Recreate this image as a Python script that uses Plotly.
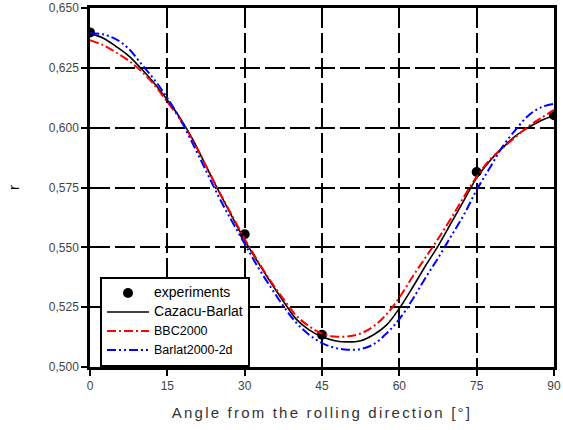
import plotly.graph_objects as go

# Experimental points
exp_angle = [0, 30, 45, 75, 90]
exp_r = [0.6398, 0.5555, 0.5135, 0.5815, 0.6052]

# Model curves
angle = [0, 2.5, 5, 7.5, 10, 12.5, 15, 17.5, 20, 22.5, 25, 27.5, 30, 32.5, 35, 37.5,
         40, 42.5, 45, 47.5, 50, 52.5, 55, 57.5, 60, 62.5, 65, 67.5, 70, 72.5, 75,
         77.5, 80, 82.5, 85, 87.5, 90]

cazacu_barlat = [0.6393, 0.6375, 0.6340, 0.6300, 0.6245, 0.6185, 0.6116, 0.6040, 0.5948,
                 0.5840, 0.5733, 0.5630, 0.5530, 0.5440, 0.5355, 0.5275, 0.5200, 0.5155,
                 0.5126, 0.5110, 0.5105, 0.5110, 0.5135, 0.5175, 0.5245, 0.5330, 0.5420,
                 0.5505, 0.5600, 0.5695, 0.5790, 0.5860, 0.5915, 0.5965, 0.6000, 0.6030,
                 0.6050]

bbc2000 = [0.6366, 0.6345, 0.6315, 0.6280, 0.6235, 0.6178, 0.6107, 0.6035, 0.5945,
           0.5840, 0.5735, 0.5635, 0.5535, 0.5445, 0.5360, 0.5285, 0.5215, 0.5170,
           0.5140, 0.5127, 0.5128, 0.5140, 0.5170, 0.5220, 0.5290, 0.5375, 0.5455,
           0.5535, 0.5620, 0.5710, 0.5795, 0.5865, 0.5915, 0.5960, 0.6005, 0.6040,
           0.6074]

barlat2000_2d = [0.6395, 0.6390, 0.6370, 0.6330, 0.6265, 0.6200, 0.6124, 0.6035, 0.5930,
                 0.5820, 0.5710, 0.5610, 0.5515, 0.5420, 0.5335, 0.5255, 0.5185, 0.5135,
                 0.5100, 0.5080, 0.5072, 0.5075, 0.5095, 0.5140, 0.5200, 0.5280, 0.5370,
                 0.5455, 0.5545, 0.5635, 0.5740, 0.5830, 0.5920, 0.5990, 0.6050, 0.6085,
                 0.6100]

x_ticks = [0, 15, 30, 45, 60, 75, 90]
y_ticks = [0.500, 0.525, 0.550, 0.575, 0.600, 0.625, 0.650]

fig = go.Figure()
fig.add_trace(go.Scatter(x=exp_angle, y=exp_r, mode="markers",
                         name='<span style="font-size:14px">experiments</span>',
                         marker=dict(color="black", size=10)))
fig.add_trace(go.Scatter(x=angle, y=cazacu_barlat, mode="lines",
                         name='<span style="font-size:14px">Cazacu-Barlat</span>',
                         line=dict(color="black", width=1.6, shape="spline")))
fig.add_trace(go.Scatter(x=angle, y=bbc2000, mode="lines",
                         name='<span style="font-size:12.5px">BBC2000</span>',
                         line=dict(color="#ff0000", width=2, shape="spline",
                                   dash="9px,3px,2px,3px")))
fig.add_trace(go.Scatter(x=angle, y=barlat2000_2d, mode="lines",
                         name='<span style="font-size:12.5px">Barlat2000-2d</span>',
                         line=dict(color="#0000ff", width=2, shape="spline",
                                   dash="9px,3px,2px,3px,2px,3px")))

axis_common = dict(showline=True, linecolor="black", linewidth=2.5, mirror=True,
                   ticks="outside", ticklen=6, tickwidth=2, tickcolor="black",
                   showgrid=True, gridcolor="black", gridwidth=2, griddash="20px,5px",
                   zeroline=False, automargin=False,
                   tickfont=dict(family="Liberation Sans, Arial", size=12, color="#444"))

fig.update_xaxes(range=[0, 90], tickvals=x_ticks, ticktext=[str(v) for v in x_ticks],
                 title=dict(text='<span style="letter-spacing:2.2px">Angle from the rolling direction [°]</span>',
                            font=dict(family="Liberation Sans, Arial", size=15, color="#333"),
                            standoff=16),
                 **axis_common)
fig.update_yaxes(range=[0.5, 0.65], tickvals=y_ticks, tickformat=".3f",
                 title=dict(text="r", font=dict(family="Liberation Sans, Arial", size=15,
                                                color="black"), standoff=26),
                 **axis_common)

fig.update_layout(
    width=563, height=430,
    margin=dict(l=90, r=9, t=8, b=63),
    paper_bgcolor="white", plot_bgcolor="white",
    separators=", ",
    showlegend=True,
    legend=dict(x=0.0216, y=0.252, xanchor="left", yanchor="top",
                bgcolor="white", bordercolor="black", borderwidth=2,
                font=dict(family="Liberation Sans, Arial", size=11, color="black"),
                tracegroupgap=0, itemwidth=42),
)

fig.write_html("out.html", config={"displayModeBar": False},
               post_script="document.body.style.margin='0';")
